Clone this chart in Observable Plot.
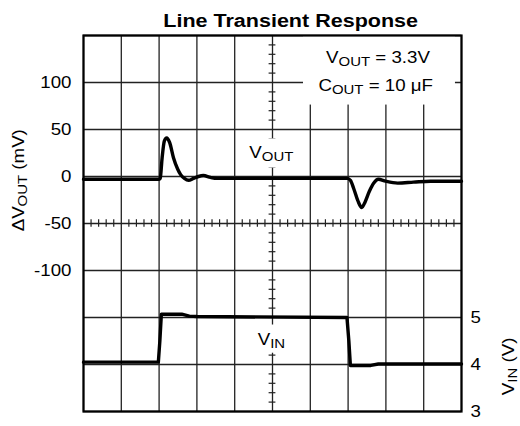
<!DOCTYPE html>
<html><head><meta charset="utf-8">
<script src="https://cdn.jsdelivr.net/npm/d3@7"></script>
<script src="https://cdn.jsdelivr.net/npm/@observablehq/plot@0.6"></script>
<style>html,body{margin:0;padding:0;background:#fff;} svg{display:block}</style>
</head><body><div id="chart"></div>
<script>
// time in scope divisions (0..10)
const timeVout = [0, 1.0, 2.0, 2.03, 2.08, 2.14, 2.2, 2.28, 2.38, 2.49, 2.57, 2.67, 2.78, 2.91, 3.04, 3.17, 3.36, 3.54, 5.0, 6.98, 7.06, 7.15, 7.26, 7.36, 7.45, 7.56, 7.68, 7.80, 7.99, 8.31, 8.73, 9.18, 10];
const vout     = [-3, -3, -3, -2, 20, 38, 41, 36, 20, 8, 2, -2, -4, -2, 0, 1, -1, -2, -2, -2, -4, -13, -26, -33, -27, -16, -7, -3, -5, -7, -6, -5, -5];
const timeVin  = [0, 1.98, 2.02, 2.06, 2.6, 2.8, 3.0, 6.97, 7.02, 7.06, 7.6, 7.8, 10];
const vin      = [4.05, 4.05, 4.5, 5.07, 5.07, 5.03, 5.02, 5.0, 4.5, 3.98, 3.98, 4.01, 4.01];
const voutTicks = [100, 50, 0, -50, -100];
const vinTicks = [3, 4, 5];
const gridX = [0, 1, 2, 3, 4, 5, 6, 7, 8, 9, 10];
const gridY = [-250, -200, -150, -100, -50, 0, 50, 100, 150];

const vinToY = v => -250 + (v - 3) * 50;   // VIN (V) onto the shared mV scale: 1 V per division
const voutData = timeVout.map((t, i) => ({t, v: vout[i]}));
const vinData = timeVin.map((t, i) => ({t, v: vin[i]}));
const minorX = d3.range(0, 10.001, 0.2).filter(d => Math.abs(d - Math.round(d)) > 1e-6);
const minorY = d3.range(-250, 150.001, 10).filter(d => d % 50 !== 0);

const svg = Plot.plot({
  width: 520, height: 426,
  marginLeft: 83, marginRight: 59, marginTop: 35, marginBottom: 15,
  x: {domain: [0, 10], axis: null},
  y: {domain: [-250, 150], axis: null},
  style: {fontFamily: "'Liberation Sans', Arial, Helvetica, sans-serif", fontSize: "17px", color: "#000", background: "#fff"},
  marks: [
    Plot.ruleX(gridX, {stroke: "#222", strokeWidth: 1.3}),
    Plot.ruleY(gridY, {stroke: "#222", strokeWidth: 1.3}),
    Plot.ruleY(minorY, {x1: 4.91, x2: 5.09, stroke: "#222", strokeWidth: 1.2}),
    Plot.ruleX(minorX, {y1: -54, y2: -46, stroke: "#222", strokeWidth: 1.2}),
    Plot.rect([0], {x1: 5.82, x2: 9.84, y1: 76, y2: 150, fill: "white"}),
    Plot.rect([0], {x1: 4.3, x2: 5.62, y1: 9, y2: 40, fill: "white"}),
    Plot.rect([0], {x1: 4.5, x2: 5.5, y1: -188, y2: -158, fill: "white"}),
    Plot.frame({stroke: "#000", strokeWidth: 2.2}),
    Plot.line(voutData, {x: "t", y: "v", curve: "monotone-x", stroke: "#000", strokeWidth: 3.4, strokeLinejoin: "round"}),
    Plot.line(vinData, {x: "t", y: d => vinToY(d.v), stroke: "#000", strokeWidth: 3.4, strokeLinejoin: "round"}),
    Plot.axisY({ticks: voutTicks, anchor: "left", label: null, tickSize: 0, tickPadding: 12, fontSize: 17,
      tickFormat: d => String(d)}),
    Plot.axisY({ticks: vinTicks.map(vinToY), anchor: "right", label: null, tickSize: 0, tickPadding: 9, fontSize: 17,
      tickFormat: d => String(Math.round((d + 250) / 50 + 3))}),
    Plot.text(["Line Transient Response"], {x: 5.48, frameAnchor: "top", dy: -8.5, lineAnchor: "bottom", fontWeight: "bold", fontSize: 17.5}),
    Plot.text(["V_{OUT} = 3.3V"], {x: 7.79, y: 121, lineAnchor: "bottom", fontSize: 17}),
    Plot.text(["C_{OUT} = 10 μF"], {x: 7.73, y: 91, lineAnchor: "bottom", fontSize: 17}),
    Plot.text(["V_{OUT}"], {x: 4.97, y: 20, lineAnchor: "bottom", fontSize: 17}),
    Plot.text(["V_{IN}"], {x: 4.97, y: -179, lineAnchor: "bottom", fontSize: 17}),
    Plot.text(["ΔV_{OUT} (mV)"], {frameAnchor: "left", y: -4, dx: -65, rotate: -90, textAnchor: "middle", fontSize: 17}),
    Plot.text(["V_{IN} (V)"], {frameAnchor: "right", y: -202, dx: 47, rotate: -90, textAnchor: "middle", fontSize: 17})
  ]
});

const NS = "http://www.w3.org/2000/svg";
function subscriptify(el) {
  for (const n of [...el.childNodes]) {
    if (n.nodeType === 3 && n.nodeValue.includes("_{")) {
      const parts = n.nodeValue.split(/(_\{[^}]*\})/);
      const frag = document.createDocumentFragment();
      let shifted = false;
      for (const p of parts) {
        if (!p) continue;
        const ts = document.createElementNS(NS, "tspan");
        if (p.startsWith("_{")) {
          ts.textContent = p.slice(2, -1);
          ts.setAttribute("font-size", "0.8em");
          ts.setAttribute("dy", "3");
          shifted = true;
        } else {
          ts.textContent = p;
          if (shifted) { ts.setAttribute("dy", "-3"); shifted = false; }
        }
        frag.appendChild(ts);
      }
      el.replaceChild(frag, n);
    } else if (n.nodeType === 1) subscriptify(n);
  }
}
// the reference's lettering is a little wider than Liberation Sans: widen each text about its own anchor
svg.querySelectorAll("text").forEach(t => {
  subscriptify(t);
  const s = t.textContent.startsWith("Line") ? 1.23 : 1.1;
  const tr = t.getAttribute("transform") || "";
  t.setAttribute("transform", (tr + ` scale(${s},1)`).trim());
});
document.getElementById("chart").appendChild(svg);
</script>
</body></html>
